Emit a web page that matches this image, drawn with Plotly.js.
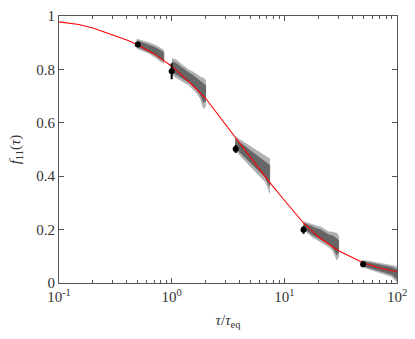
<!DOCTYPE html>
<html>
<head>
<meta charset="utf-8">
<script src="https://cdn.plot.ly/plotly-3.0.1.min.js"></script>
<style>html,body{margin:0;padding:0;background:#fff}#chart{width:415px;height:339px}</style>
</head>
<body>
<div id="chart"></div>
<script>
// Red fitted curve
const curveTau = [0.1, 0.15, 0.2, 0.3, 0.4, 0.5, 0.7, 1, 1.5, 2, 3, 3.8, 5, 7, 10, 15, 20, 30, 50, 70, 100];
const curveF   = [0.978, 0.968, 0.955, 0.930, 0.910, 0.892, 0.858, 0.812, 0.745, 0.692, 0.595, 0.536, 0.470, 0.390, 0.310, 0.222, 0.173, 0.122, 0.076, 0.056, 0.042];

// Black averaged points with error bars
const pointTau = [0.5, 1.0, 3.7, 14.8, 50];
const pointF   = [0.893, 0.793, 0.502, 0.199, 0.070];
const pointErr = [0.008, 0.03, 0.015, 0.015, 0.006];

// Gray noisy segments: envelopes (upper / lower)
const seg1Tau = [0.49, 0.53, 0.56, 0.6, 0.647, 0.68, 0.72, 0.76, 0.794, 0.85];
const seg1Up  = [0.914, 0.91, 0.906, 0.903, 0.898, 0.894, 0.89, 0.885, 0.879, 0.873];
const seg1Lo  = [0.879, 0.872, 0.868, 0.864, 0.858, 0.85, 0.845, 0.836, 0.829, 0.822];

const seg2Tau = [1.01, 1.1, 1.19, 1.3, 1.42, 1.55, 1.68, 1.8, 1.92, 2.0];
const seg2Up  = [0.842, 0.835, 0.823, 0.81, 0.798, 0.79, 0.779, 0.772, 0.767, 0.76];
const seg2Lo  = [0.779, 0.77, 0.76, 0.75, 0.742, 0.725, 0.71, 0.69, 0.654, 0.66];

const seg3Tau = [3.67, 4.1, 4.5, 5.0, 5.52, 6.1, 6.77, 7.1, 7.4];
const seg3Up  = [0.548, 0.535, 0.523, 0.51, 0.498, 0.487, 0.473, 0.47, 0.467];
const seg3Lo  = [0.498, 0.475, 0.454, 0.435, 0.417, 0.398, 0.379, 0.36, 0.336];

const seg4Tau = [14.8, 16.2, 17.6, 19.2, 20.8, 22.7, 24.7, 27, 29.3, 30.3];
const seg4Up  = [0.23, 0.224, 0.217, 0.214, 0.211, 0.2, 0.192, 0.19, 0.186, 0.175];
const seg4Lo  = [0.199, 0.186, 0.173, 0.163, 0.155, 0.145, 0.136, 0.12, 0.086, 0.098];

const seg5Tau = [48.7, 54, 59.8, 66, 73.3, 81, 90, 95, 100];
const seg5Up  = [0.086, 0.083, 0.08, 0.077, 0.074, 0.07, 0.067, 0.064, 0.061];
const seg5Lo  = [0.061, 0.055, 0.049, 0.042, 0.036, 0.03, 0.024, 0.012, 0.004];

const segments = [
  [seg1Tau, seg1Up, seg1Lo],
  [seg2Tau, seg2Up, seg2Lo],
  [seg3Tau, seg3Up, seg3Lo],
  [seg4Tau, seg4Up, seg4Lo],
  [seg5Tau, seg5Up, seg5Lo]
];

const xTickVals = [0.1, 1, 10, 100];
const xTickText = ['10<sup>-1</sup>', '10<sup>0</sup>', '10<sup>1</sup>', '10<sup>2</sup>'];
const yTickVals = [0, 0.2, 0.4, 0.6, 0.8, 1];

const traces = [];
segments.forEach(([t, up, lo]) => {
  traces.push({
    x: t.concat(t.slice().reverse()),
    y: up.concat(lo.slice().reverse()),
    type: 'scatter', mode: 'lines', fill: 'toself',
    fillcolor: 'rgba(150,150,150,0.75)',
    line: {color: 'rgba(170,170,170,0.6)', width: 1},
    hoverinfo: 'skip', showlegend: false
  });
  const mid = up.map((u, i) => (u + lo[i]) / 2);
  const iu = up.map((u, i) => mid[i] + 0.3 * (u - lo[i]));
  const il = lo.map((l, i) => mid[i] - 0.3 * (up[i] - l));
  traces.push({
    x: t.concat(t.slice().reverse()),
    y: iu.concat(il.slice().reverse()),
    type: 'scatter', mode: 'lines', fill: 'toself',
    fillcolor: '#666666',
    line: {color: '#6a6a6a', width: 1},
    hoverinfo: 'skip', showlegend: false
  });
});

traces.push({
  x: curveTau, y: curveF, type: 'scatter', mode: 'lines',
  line: {color: '#ff0000', width: 1.1},
  showlegend: false
});

traces.push({
  x: pointTau, y: pointF, type: 'scatter', mode: 'markers',
  marker: {color: '#000', size: 6},
  error_y: {type: 'data', array: pointErr, color: '#000', thickness: 2, width: 0},
  showlegend: false
});

const axisFont = {family: 'Times New Roman', size: 15, color: '#333'};

const layout = {
  width: 415, height: 339,
  margin: {l: 58.5, r: 18, t: 16, b: 56},
  paper_bgcolor: '#fff', plot_bgcolor: '#fff',
  font: axisFont,
  xaxis: {
    type: 'log', range: [-1, 2],
    tickvals: xTickVals, ticktext: xTickText,
    ticks: 'inside', ticklen: 5, tickcolor: '#555',
    showline: true, linecolor: '#555', linewidth: 1, mirror: 'allticks',
    showgrid: false, zeroline: false,
    minor: {ticks: 'inside', ticklen: 3, tickcolor: '#555', dtick: 'D1', showgrid: false},
    tickfont: axisFont,
    title: {text: '<i>τ</i>/<i>τ</i><sub>eq</sub>', font: axisFont, standoff: 10}
  },
  yaxis: {
    range: [0, 1], tickvals: yTickVals,
    ticks: 'inside', ticklen: 5, tickcolor: '#555',
    showline: true, linecolor: '#555', linewidth: 1, mirror: 'allticks',
    showgrid: false, zeroline: false,
    tickfont: axisFont,
    title: {text: '<i>f</i><sub>11</sub>(<i>τ</i>)', font: axisFont, standoff: 12}
  }
};

Plotly.newPlot('chart', traces, layout, {staticPlot: true, displayModeBar: false});
</script>
</body>
</html>
